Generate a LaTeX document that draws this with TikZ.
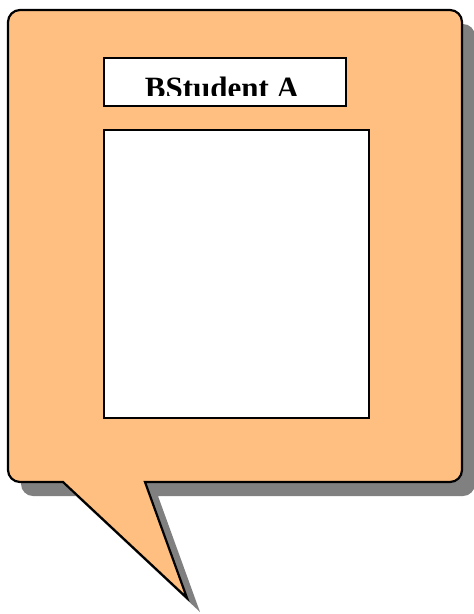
\documentclass[tikz,border=0pt]{standalone}
\usepackage{fontspec}
\setmainfont{Liberation Serif}
\definecolor{bubble}{HTML}{FFBF80}
\definecolor{shadowgray}{HTML}{808080}
\begin{document}
\begin{tikzpicture}[x=1pt,y=-1pt,
  box/.style={draw=black,line width=2pt,fill=white,inner sep=0pt,anchor=north west}]
\useasboundingbox (0,0) rectangle (474,614);
\begin{scope}[shift={(13,14)}]
\fill[shadowgray] (145,482) [rounded corners=12pt] -- (462,482) -- (462,10) -- (8,10) -- (8,482) [sharp corners] -- (63,482) -- (187,598) -- cycle;
\end{scope}
\filldraw[fill=bubble,draw=black,line width=2.2pt,line join=miter] (145,482) [rounded corners=12pt] -- (462,482) -- (462,10) -- (8,10) -- (8,482) [sharp corners] -- (63,482) -- (187,598) -- cycle;
\node[box,minimum width=242pt,minimum height=48pt] (title) at (103,57) {};
\node[box,minimum width=265pt,minimum height=288pt] (panel) at (103,129) {};
\begin{scope}
\clip (104,58) rectangle (344,95.5);
\node[anchor=base,inner sep=0pt,font=\fontsize{31}{31}\selectfont\bfseries] (label) at (222,98) {BStudent A};
\end{scope}
\end{tikzpicture}
\end{document}
